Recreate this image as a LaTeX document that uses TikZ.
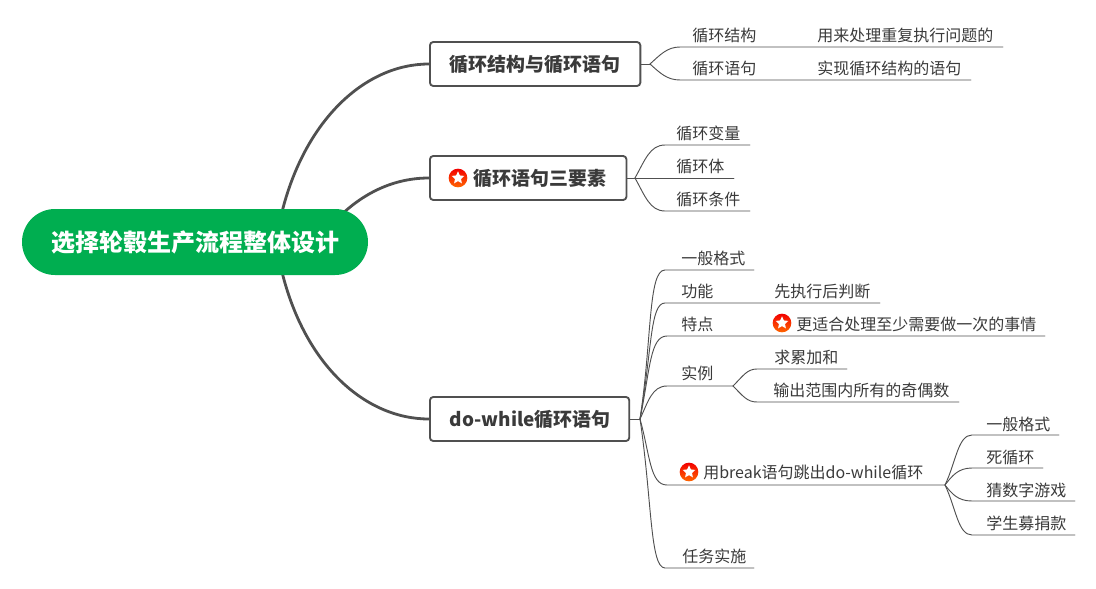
\documentclass[tikz,border=0pt]{standalone}
\usepackage{fontspec}
\setmainfont{Noto Sans CJK SC}
\usetikzlibrary{shapes.geometric,shapes.misc,backgrounds}
\definecolor{rootgreen}{HTML}{00AE50}
\definecolor{inkgray}{HTML}{3A3A3A}
\definecolor{linegray}{HTML}{505050}
\tikzset{
	rootbox/.style={rounded rectangle,fill=rootgreen,text=white,font=\fontsize{18pt}{22pt}\bfseries,minimum width=259.5pt,minimum height=49.5pt,inner sep=0pt},
	topbox/.style={draw=linegray,line width=1.4pt,rounded corners=2.5pt,fill=white,text=inkgray,font=\fontsize{14.2pt}{18pt}\bfseries,anchor=west,inner xsep=15pt,minimum height=33pt,inner ysep=0pt},
	leaf/.style={anchor=west,inner sep=0pt,text=inkgray,font=\fontsize{12pt}{15pt}\selectfont},
	bigline/.style={draw=linegray,line width=2.1pt},
	branch/.style={draw=linegray,line width=0.7pt},
	starbg/.style={circle,inner sep=0pt,minimum size=14pt,top color=red!95!black,bottom color=orange!80!red},
	starfg/.style={star,star points=5,star point ratio=2.1,fill=white,inner sep=0pt,minimum size=10pt},
}
\begin{document}
\begin{tikzpicture}[line join = round, line cap=round,x=0.75pt,y=-0.75pt]
	\useasboundingbox (0,0) rectangle (1096,589);
	\node[rootbox] (root) at (195,242) {选择轮毂生产流程整体设计};
	\node[topbox] (boxa) at (429,64) {循环结构与循环语句};
	\node[topbox] (boxb) at (429,178) {\hspace{18pt}循环语句三要素};
	\node[topbox] (boxc) at (429,419) {\makebox[119.5pt][l]{do-while循环语句}};
	\node[starbg] (stara) at (458,178) {};
	\node[starfg] (starta) at (458,178) {};
	\node[starbg] (starb) at (782,323) {};
	\node[starfg] (startb) at (782,323) {};
	\node[starbg] (starc) at (689,472) {};
	\node[starfg] (startc) at (689,472) {};
	
	%thick curves out of the root
	\coordinate (rootup) at (282,212);
	\coordinate (rootmid) at (340,216);
	\coordinate (rootdown) at (282,272);
	\begin{scope}[on background layer]
		\draw[bigline] (rootup) .. controls (305,120) and (365,64) .. (boxa.west);
		\draw[bigline] (rootmid) .. controls (365,192) and (395,178) .. (boxb.west);
		\draw[bigline] (rootdown) .. controls (305,365) and (365,419) .. (boxc.west);
	\end{scope}
	
	%first box
	\coordinate (forka) at (650,64);
	\draw[branch] (boxa.east)--(forka);
	\node[leaf] (jiegou) at (692,35) {循环结构};
	\node[leaf] (jiegoutxt) at (817,35) {用来处理重复执行问题的};
	\node[leaf] (yuju) at (692,68) {循环语句};
	\node[leaf] (yujutxt) at (817,68) {实现循环结构的语句};
	\coordinate (jiegoua) at (680,47);
	\coordinate (jiegoub) at (1003,47);
	\coordinate (yujua) at (680,80);
	\coordinate (yujub) at (971,80);
	\draw[branch] (forka) .. controls (660,55) and (667,47) .. (jiegoua)--(jiegoub);
	\draw[branch] (forka) .. controls (660,73) and (667,80) .. (yujua)--(yujub);
	
	%second box
	\coordinate (forkb) at (635,178);
	\draw[branch] (boxb.east)--(forkb);
	\node[leaf] (bianliang) at (676,133) {循环变量};
	\node[leaf] (xunhuanti) at (676,166) {循环体};
	\node[leaf] (tiaojian) at (676,199) {循环条件};
	\coordinate (bianliangb) at (750,145);
	\coordinate (xunhuantib) at (734,178);
	\coordinate (tiaojianb) at (750,211);
	\draw[branch] (forkb) .. controls (645,160) and (650,145) .. (665,145)--(bianliangb);
	\draw[branch] (forkb)--(xunhuantib);
	\draw[branch] (forkb) .. controls (645,196) and (650,211) .. (665,211)--(tiaojianb);
	
	%third box
	\coordinate (forkc) at (640,419);
	\draw[branch] (boxc.east)--(forkc);
	\node[leaf] (geshi) at (681,258) {一般格式};
	\node[leaf] (gongneng) at (681,291) {功能};
	\node[leaf] (gongnengtxt) at (774,291) {先执行后判断};
	\node[leaf] (tedian) at (681,324) {特点};
	\node[leaf] (tediantxt) at (796,324) {更适合处理至少需要做一次的事情};
	\node[leaf] (shili) at (681,373) {实例};
	\node[leaf] (leijia) at (774,357) {求累加和};
	\node[leaf] (jiou) at (773,390) {输出范围内所有的奇偶数};
	\node[leaf] (tiaochu) at (703,472) {用break语句跳出do-while循环};
	\node[leaf] (shishi) at (682,556) {任务实施};
	\coordinate (geshib) at (754,270);
	\coordinate (gongnengb) at (880,303);
	\coordinate (tedianb) at (1045,336);
	\coordinate (forkd) at (733,386);
	\coordinate (forke) at (945,485);
	\coordinate (shishib) at (754,568);
	\draw[branch] (forkc) .. controls (652,340) and (648,270) .. (665,270)--(geshib);
	\draw[branch] (forkc) .. controls (652,350) and (650,303) .. (665,303)--(gongnengb);
	\draw[branch] (forkc) .. controls (650,370) and (650,336) .. (667,336)--(tedianb);
	\draw[branch] (forkc) .. controls (648,402) and (652,386) .. (667,386)--(forkd);
	\draw[branch] (forkc) .. controls (650,455) and (650,485) .. (667,485)--(forke);
	\draw[branch] (forkc) .. controls (652,500) and (650,568) .. (665,568)--(shishib);
	
	%fork under the example row
	\coordinate (leijiab) at (847,369);
	\coordinate (jioub) at (959,402);
	\draw[branch] (forkd) .. controls (743,376) and (747,369) .. (757,369)--(leijiab);
	\draw[branch] (forkd) .. controls (743,396) and (747,402) .. (757,402)--(jioub);
	
	%fork after the break row
	\node[leaf] (geshitwo) at (986,424) {一般格式};
	\node[leaf] (sixunhuan) at (986,457) {死循环};
	\node[leaf] (caishuzi) at (986,490) {猜数字游戏};
	\node[leaf] (mujuan) at (986,523) {学生募捐款};
	\coordinate (geshitwob) at (1059,435);
	\coordinate (sixunhuanb) at (1043,468);
	\coordinate (caishuzib) at (1075,501);
	\coordinate (mujuanb) at (1075,535);
	\draw[branch] (forke) .. controls (956,462) and (958,435) .. (972,435)--(geshitwob);
	\draw[branch] (forke) .. controls (952,476) and (958,468) .. (972,468)--(sixunhuanb);
	\draw[branch] (forke) .. controls (952,494) and (958,501) .. (972,501)--(caishuzib);
	\draw[branch] (forke) .. controls (956,508) and (958,535) .. (972,535)--(mujuanb);
\end{tikzpicture}
\end{document}
